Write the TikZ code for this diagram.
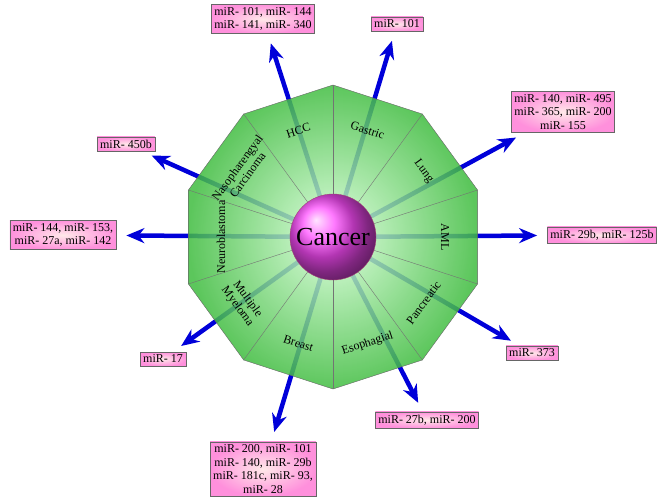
\documentclass[tikz,border=0pt]{standalone}
\usepackage{fontspec}
\setmainfont{Liberation Serif}
\usetikzlibrary{arrows.meta,shapes.geometric}

\tikzset{
 mirbox/.style={draw=black!60,inner sep=3pt,align=center,font=\fontsize{12}{13.5}\selectfont,
  inner color=pink!35,outer color=magenta!35!pink!85},
 sector/.style={font=\fontsize{12}{12.5}\selectfont,align=center},
 arr/.style={line width=4.5pt,blue!85!black,-{Stealth[length=18pt,width=15pt]},shorten >=10pt}
}

\begin{document}
\begin{tikzpicture}[x=1pt,y=1pt]
\useasboundingbox (-333,-264) rectangle (336,237);
%Nodes
\path
 (-70,218) node[mirbox] (hcc) {miR- 101, miR- 144\\miR- 141, miR- 340}
 (64,213) node[mirbox] (gas) {miR- 101}
 (230,125) node[mirbox] (lung) {miR- 140, miR- 495\\miR- 365, miR- 200\\miR- 155}
 (269,2) node[mirbox] (aml) {miR- 29b, miR- 125b}
 (199,-116) node[mirbox] (pan) {miR- 373}
 (94,-183) node[mirbox] (eso) {miR- 27b, miR- 200}
 (-70,-232) node[mirbox] (bre) {miR- 200, miR- 101\\miR- 140, miR- 29b\\miR- 181c, miR- 93,\\miR- 28}
 (-170,-122) node[mirbox] (mm) {miR- 17}
 (-270,2) node[mirbox] (neu) {miR- 144, miR- 153,\\miR- 27a, miR- 142}
 (-207,93) node[mirbox] (nas) {miR- 450b}
 ;
\coordinate (c) at (0,0);
%Arrows
\foreach \b in {hcc,gas,lung,aml,pan,eso,bre,mm,neu,nas}
 \draw[arr] (c) -- (\b);
%Decagon
\node[draw=black!60,regular polygon,regular polygon sides=10,minimum size=304pt,
 shape border rotate=18,
 inner color=green!15,outer color=green!65!black!75,fill opacity=0.85] (dec) at (c) {};
\foreach \k in {1,...,10}
 \draw[black!55,thin] (c) -- (dec.corner \k);
% Sector labels
\foreach \a/\t in {108/HCC,72/Gastric,36/Lung,0/AML,180/Neuroblastoma,144/{Nasopharengyal\\Carcinoma}}
 \node[sector,rotate=\a-90] at (\a:112) {\t};
\foreach \a/\t in {-36/Pancreatic,-72/Esophagial,-108/Breast,-144/{Multiple\\Myeloma}}
 \node[sector,rotate=\a+90] at (\a:112) {\t};
\node[circle,draw=magenta!60!black,minimum size=86pt,ball color=magenta!70,
 font=\fontsize{26}{26}\selectfont] (cancer) at (c) {Cancer};
\end{tikzpicture}
\end{document}
